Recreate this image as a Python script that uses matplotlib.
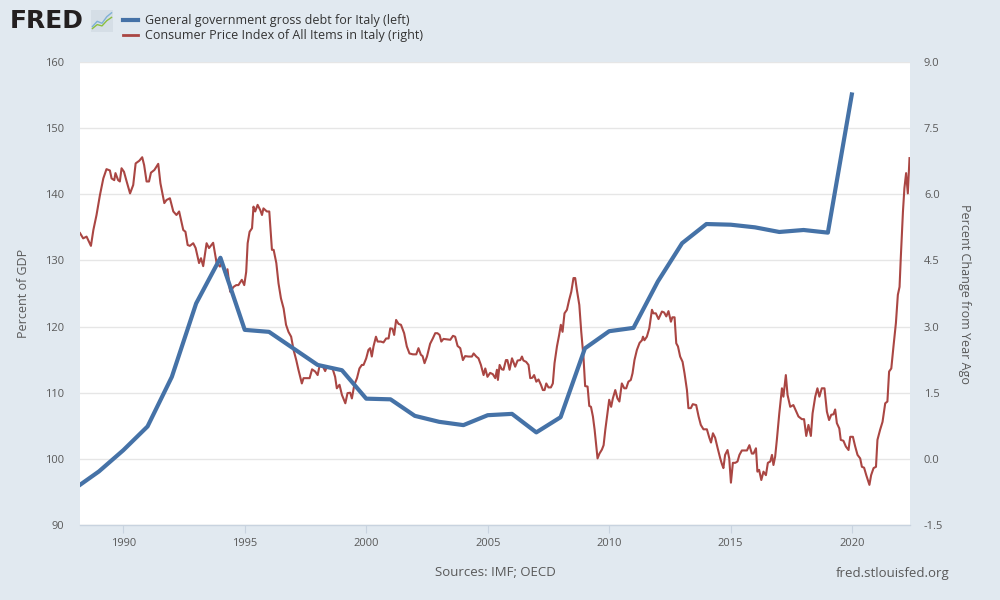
import matplotlib
matplotlib.use("Agg")
import matplotlib.pyplot as plt
from matplotlib.lines import Line2D

# ---------------- data ----------------
debt_years = [1988, 1989, 1990, 1991, 1992, 1993, 1994, 1995, 1996, 1997, 1998,
              1999, 2000, 2001, 2002, 2003, 2004, 2005, 2006, 2007, 2008, 2009,
              2010, 2011, 2012, 2013, 2014, 2015, 2016, 2017, 2018, 2019, 2020]
debt_vals = [95.5, 98.1, 101.3, 104.9, 112.4, 123.5, 130.4, 119.5, 119.2, 116.7,
             114.2, 113.4, 109.1, 109.0, 106.5, 105.6, 105.1, 106.6, 106.8, 104.0,
             106.3, 116.7, 119.3, 119.8, 126.8, 132.6, 135.5, 135.4, 135.0, 134.3,
             134.6, 134.2, 155.4]

# CPI, % change from year ago (split by period)
cpi_years_a = [1988.22, 1988.35, 1988.49, 1988.67, 1988.77, 1988.90,
               1989.04, 1989.18, 1989.31, 1989.45, 1989.52, 1989.63, 1989.68, 1989.79, 1989.86, 1989.93,
               1990.03, 1990.14, 1990.28, 1990.41, 1990.51, 1990.66, 1990.78, 1990.86, 1990.96,
               1991.06, 1991.14, 1991.28, 1991.44, 1991.53, 1991.69, 1991.78, 1991.92,
               1992.06, 1992.19, 1992.30, 1992.47, 1992.56, 1992.65, 1992.74, 1992.88, 1992.98,
               1993.12, 1993.20, 1993.29, 1993.43, 1993.53, 1993.70, 1993.84, 1993.98,
               1994.05]
cpi_vals_a = [5.12, 5.00, 5.04, 4.83, 5.19, 5.53,
              5.98, 6.36, 6.57, 6.54, 6.36, 6.32, 6.48, 6.32, 6.29, 6.59,
              6.51, 6.29, 6.02, 6.21, 6.70, 6.76, 6.84, 6.66, 6.29,
              6.29, 6.49, 6.55, 6.69, 6.25, 5.80, 5.87, 5.91,
              5.61, 5.53, 5.61, 5.19, 5.15, 4.85, 4.83, 4.89, 4.78,
              4.44, 4.55, 4.37, 4.89, 4.78, 4.90, 4.45, 4.36,
              4.45]

cpi_years_b = [1994.13, 1994.24, 1994.29, 1994.40, 1994.54, 1994.65, 1994.74, 1994.88, 1994.98,
               1995.06, 1995.12, 1995.20, 1995.30, 1995.36, 1995.43, 1995.53, 1995.64, 1995.71,
               1995.77, 1995.91, 1996.01, 1996.12, 1996.19, 1996.30, 1996.39, 1996.49, 1996.60,
               1996.70, 1996.80, 1996.91, 1997.01, 1997.12, 1997.21, 1997.35, 1997.42, 1997.56,
               1997.67, 1997.77, 1997.90, 1998.00, 1998.08, 1998.22, 1998.31, 1998.38, 1998.52,
               1998.63, 1998.72, 1998.79, 1998.90, 1999.00, 1999.14, 1999.23, 1999.34, 1999.41,
               1999.51, 1999.62, 1999.72, 1999.82]
cpi_vals_b = [4.32, 4.13, 4.30, 3.79, 3.90, 3.94, 3.94, 4.06, 3.94,
              4.24, 4.89, 5.15, 5.23, 5.72, 5.61, 5.76, 5.64, 5.53,
              5.68, 5.61, 5.61, 4.74, 4.74, 4.44, 3.98, 3.64, 3.41,
              3.04, 2.88, 2.77, 2.47, 2.24, 2.02, 1.71, 1.83, 1.83,
              1.83, 2.03, 1.98, 1.90, 2.11, 2.09, 1.99, 2.09, 2.07,
              2.02, 1.86, 1.60, 1.68, 1.45, 1.26, 1.49, 1.50, 1.37,
              1.68, 1.83, 2.05, 2.13]

cpi_years_c = [1999.89, 2000.00, 2000.09, 2000.16, 2000.23, 2000.30, 2000.40, 2000.47, 2000.60, 2000.71,
               2000.82, 2000.92, 2000.99, 2001.08, 2001.15, 2001.23, 2001.33, 2001.43, 2001.56, 2001.67,
               2001.78, 2001.92, 2002.06, 2002.15, 2002.25, 2002.32, 2002.40, 2002.50, 2002.63, 2002.74,
               2002.84, 2002.93, 2003.02, 2003.09, 2003.18, 2003.32, 2003.46, 2003.57, 2003.66, 2003.76,
               2003.87, 2003.98, 2004.07, 2004.21, 2004.35, 2004.42, 2004.53, 2004.62, 2004.72, 2004.83,
               2004.90, 2004.99, 2005.10, 2005.21, 2005.31, 2005.38, 2005.42, 2005.49, 2005.58]
cpi_vals_c = [2.13, 2.28, 2.47, 2.51, 2.32, 2.55, 2.77, 2.66, 2.66, 2.64,
              2.73, 2.73, 2.96, 2.95, 2.81, 3.15, 3.06, 3.04, 2.85, 2.55,
              2.39, 2.37, 2.37, 2.51, 2.36, 2.33, 2.17, 2.32, 2.61, 2.73,
              2.85, 2.85, 2.81, 2.66, 2.72, 2.71, 2.70, 2.79, 2.77, 2.56,
              2.51, 2.24, 2.33, 2.32, 2.32, 2.39, 2.32, 2.28, 2.13, 1.90,
              2.05, 1.86, 1.95, 1.92, 1.83, 2.02, 1.79, 2.13, 2.03]

cpi_years_d = [2005.65, 2005.75, 2005.81, 2005.90, 2006.00, 2006.13, 2006.23, 2006.34, 2006.41, 2006.47,
               2006.58, 2006.68, 2006.75, 2006.84, 2006.91, 2007.00, 2007.09, 2007.19, 2007.27, 2007.34,
               2007.41, 2007.50, 2007.60, 2007.68, 2007.75, 2007.85, 2007.94, 2008.01, 2008.08, 2008.16,
               2008.26, 2008.35, 2008.44, 2008.53, 2008.60, 2008.67, 2008.77, 2008.85, 2008.94, 2009.01,
               2009.11, 2009.18, 2009.25, 2009.33, 2009.40, 2009.47, 2009.52, 2009.60, 2009.70, 2009.77,
               2009.84, 2009.91, 2010.00, 2010.08, 2010.15, 2010.25, 2010.34, 2010.42, 2010.52, 2010.62,
               2010.70, 2010.79, 2010.89, 2010.96, 2011.04, 2011.14, 2011.25, 2011.35]
cpi_vals_d = [2.02, 2.24, 2.24, 2.02, 2.28, 2.09, 2.23, 2.24, 2.32, 2.23,
              2.20, 2.13, 1.83, 1.84, 1.90, 1.75, 1.80, 1.68, 1.56, 1.56,
              1.71, 1.62, 1.62, 1.71, 2.17, 2.55, 2.81, 3.04, 2.88, 3.30,
              3.38, 3.60, 3.79, 4.10, 4.10, 3.83, 3.49, 2.88, 2.32, 1.65,
              1.64, 1.20, 1.18, 0.96, 0.66, 0.28, 0.01, 0.12, 0.21, 0.31,
              0.66, 0.96, 1.34, 1.18, 1.37, 1.56, 1.37, 1.30, 1.71, 1.60,
              1.60, 1.75, 1.79, 1.94, 2.24, 2.47, 2.63, 2.69]

cpi_years_e = [2011.39, 2011.45, 2011.55, 2011.65, 2011.76, 2011.82, 2011.92, 2012.03, 2012.17, 2012.26,
               2012.35, 2012.44, 2012.54, 2012.60, 2012.69, 2012.76, 2012.83, 2012.92, 2013.02, 2013.10,
               2013.20, 2013.26, 2013.36, 2013.44, 2013.58, 2013.68, 2013.77, 2013.88, 2014.02, 2014.12,
               2014.19, 2014.27, 2014.36, 2014.46, 2014.57, 2014.64, 2014.70, 2014.77, 2014.87, 2014.94,
               2015.01, 2015.09, 2015.19, 2015.28, 2015.36, 2015.46, 2015.56, 2015.67, 2015.77, 2015.87,
               2015.94, 2016.04, 2016.10, 2016.17, 2016.26, 2016.35, 2016.45, 2016.53, 2016.63, 2016.70,
               2016.76, 2016.83, 2016.90, 2017.00]
cpi_vals_e = [2.77, 2.69, 2.77, 2.96, 3.38, 3.30, 3.30, 3.17, 3.34, 3.32,
              3.23, 3.35, 3.11, 3.21, 3.21, 2.62, 2.55, 2.32, 2.20, 1.94,
              1.56, 1.15, 1.15, 1.24, 1.22, 0.96, 0.77, 0.67, 0.67, 0.48,
              0.37, 0.58, 0.48, 0.25, 0.01, -0.12, -0.21, 0.09, 0.20, 0.01,
              -0.54, -0.09, -0.09, -0.06, 0.09, 0.19, 0.19, 0.19, 0.31, 0.12,
              0.12, 0.24, -0.29, -0.25, -0.48, -0.29, -0.37, -0.09, -0.06, 0.09,
              -0.14, 0.05, 0.43, 1.03]

cpi_years_f = [2017.11, 2017.17, 2017.27, 2017.34, 2017.45, 2017.58, 2017.70, 2017.79, 2017.93, 2018.02,
               2018.11, 2018.20, 2018.30, 2018.37, 2018.48, 2018.57, 2018.65, 2018.75, 2018.86, 2018.96,
               2019.05, 2019.14, 2019.23, 2019.30, 2019.37, 2019.47, 2019.53, 2019.64, 2019.74, 2019.85,
               2019.92, 2020.03, 2020.12, 2020.22, 2020.33, 2020.40, 2020.49, 2020.58, 2020.71, 2020.78,
               2020.88, 2020.98, 2021.04, 2021.15, 2021.25, 2021.36, 2021.45, 2021.52, 2021.61, 2021.70,
               2021.80, 2021.88, 2021.95, 2022.00, 2022.09, 2022.15, 2022.22, 2022.29, 2022.36]
cpi_vals_f = [1.60, 1.41, 1.90, 1.45, 1.18, 1.22, 1.07, 0.96, 0.90, 0.90,
              0.52, 0.77, 0.52, 1.03, 1.41, 1.60, 1.41, 1.60, 1.60, 1.07,
              0.88, 1.00, 1.01, 1.12, 0.81, 0.69, 0.43, 0.41, 0.28, 0.20,
              0.50, 0.50, 0.29, 0.09, 0.01, -0.18, -0.20, -0.37, -0.59, -0.37,
              -0.21, -0.18, 0.43, 0.66, 0.84, 1.26, 1.30, 1.98, 2.05, 2.55,
              3.08, 3.72, 3.90, 4.55, 5.61, 6.14, 6.48, 6.02, 6.82]

left_ticks = [90, 100, 110, 120, 130, 140, 150, 160]
right_ticks = [-1.5, 0.0, 1.5, 3.0, 4.5, 6.0, 7.5, 9.0]
x_ticks = [1990, 1995, 2000, 2005, 2010, 2015, 2020]

series_labels = ["General government gross debt for Italy (left)",
                 "Consumer Price Index of All Items in Italy (right)"]
left_label = "Percent of GDP"
right_label = "Percent Change from Year Ago"
source_text = "Sources: IMF; OECD"
site_text = "fred.stlouisfed.org"

cpi_years = cpi_years_a + cpi_years_b + cpi_years_c + cpi_years_d + cpi_years_e + cpi_years_f
cpi_vals = cpi_vals_a + cpi_vals_b + cpi_vals_c + cpi_vals_d + cpi_vals_e + cpi_vals_f

# ---------------- style ----------------
BG = "#e1e9f0"
BLUE = "#4572a7"
RED = "#aa4643"
TXT = "#595959"
GRID = "#e6e6e6"

plt.rcParams['font.family'] = ['Open Sans', 'DejaVu Sans']

fig = plt.figure(figsize=(10, 6), dpi=100, facecolor=BG)
ax = fig.add_axes([0.08, 0.125, 0.83, 0.7717])
ax2 = ax.twinx()
ax2.patch.set_visible(True)
ax2.patch.set_facecolor("white")
ax2.set_zorder(0)
ax.set_zorder(1)
ax.patch.set_visible(False)

ax.set_xlim(1988.22, 2022.38)
ax.set_ylim(90, 160)
ax2.set_ylim(-1.5, 9.0)

ax.set_yticks(left_ticks)
ax.set_yticklabels([str(t) for t in left_ticks])
ax2.set_yticks(right_ticks)
ax2.set_yticklabels([f"{t:.1f}" for t in right_ticks])
ax.set_xticks(x_ticks)
ax.set_xticklabels([str(t) for t in x_ticks])

# horizontal grid drawn on the lower axes so it sits behind both series
ax2.grid(axis='y', color=GRID, linewidth=1.0)
ax2.set_axisbelow(True)

for a in (ax, ax2):
    for s in a.spines.values():
        s.set_visible(False)
ax.spines['bottom'].set_visible(True)
ax.spines['bottom'].set_color("#c8d3df")
ax.spines['bottom'].set_linewidth(1.0)

ax.tick_params(axis='y', length=0, labelsize=8, labelcolor=TXT, pad=11.5)
ax2.tick_params(axis='y', length=0, labelsize=8, labelcolor=TXT, pad=10)
ax.tick_params(axis='x', length=6, color="#c8d3df", labelsize=8, labelcolor=TXT, pad=3)

ax.set_ylabel(left_label, fontsize=9, color=TXT, labelpad=11)
ax2.set_ylabel(right_label, fontsize=9, color=TXT, rotation=-90, labelpad=20)

ax2.plot(cpi_years, cpi_vals, color=RED, linewidth=1.5, solid_joinstyle='round', zorder=2)
ax.plot(debt_years, debt_vals, color=BLUE, linewidth=3.0, solid_joinstyle='round',
        solid_capstyle='butt', zorder=3)

# ---------------- header ----------------
fig.text(0.01, 0.965, "FRED", fontsize=18, fontweight='bold', color="#231f20",
         family='DejaVu Sans', va='center', ha='left')
icon = fig.add_axes([0.091, 0.947, 0.022, 0.036])
icon.set_facecolor("#d5dee6")
icon.set_xticks([]); icon.set_yticks([])
for s in icon.spines.values():
    s.set_visible(False)
icon.plot([0, 1, 2, 3, 4], [0.5, 1.3, 1.0, 2.0, 2.6], color="#7fb0d6", lw=1)
icon.plot([0, 1, 2, 3, 4], [0.2, 0.8, 0.6, 1.4, 1.9], color="#8cbf3f", lw=1)
icon.set_xlim(-0.3, 4.3); icon.set_ylim(-0.3, 3.0)

fig.add_artist(Line2D([0.123, 0.138], [0.966, 0.966], color=BLUE, lw=3.0))
fig.add_artist(Line2D([0.123, 0.138], [0.941, 0.941], color=RED, lw=2.0))
fig.text(0.145, 0.966, series_labels[0], fontsize=9, color="#333333", va='center')
fig.text(0.145, 0.941, series_labels[1], fontsize=9, color="#333333", va='center')

# ---------------- footer ----------------
fig.text(0.495, 0.045, source_text, fontsize=9.5, color=TXT, ha='center', va='center')
fig.text(0.95, 0.045, site_text, fontsize=9.5, color=TXT, ha='right', va='center')

fig.savefig("out.png", dpi=100, facecolor=BG)
